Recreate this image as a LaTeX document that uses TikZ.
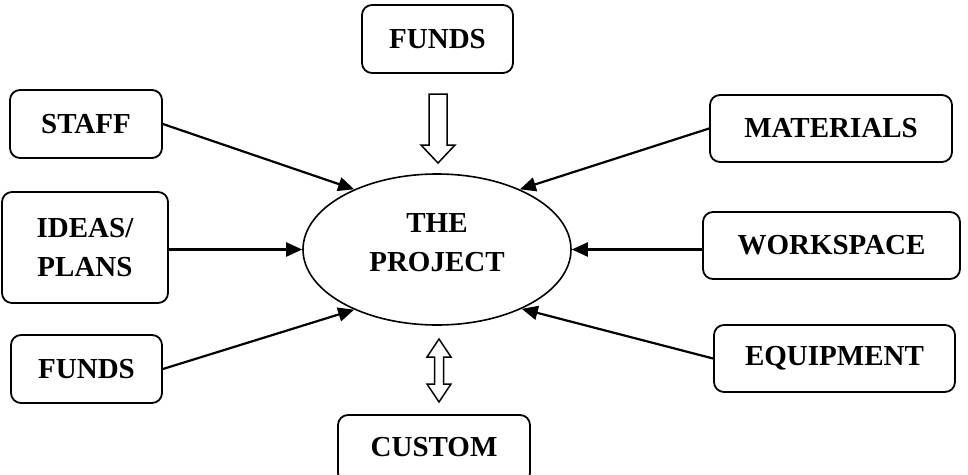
\documentclass[tikz,border=0pt]{standalone}
\usepackage{fontspec}
\setmainfont{Liberation Serif}
\usetikzlibrary{arrows.meta,shapes.geometric}
\begin{document}
\begin{tikzpicture}[x=1pt,y=-1pt,
  lbl/.style={font=\fontsize{29}{39}\selectfont\bfseries,align=center,inner sep=0pt},
  box/.style={lbl,draw,line width=1.8pt,rounded corners=10pt},
  conn/.style={line width=2.2pt,-{Triangle[length=16pt,width=14pt]}},
  blockarrow/.style={draw,line width=1.5pt,fill=white,line join=miter}]
\useasboundingbox (0,0) rectangle (968,474);
\clip (0,0) rectangle (968,474);
\node[box,minimum width=151pt,minimum height=68pt] (fundsT) at (437.5,39) {FUNDS};
\node[box,minimum width=152pt,minimum height=68pt] (staff) at (86,124) {STAFF};
\node[box,minimum width=166pt,minimum height=111pt] (ideas) at (85,247.5) {IDEAS/\\PLANS};
\node[box,minimum width=151pt,minimum height=68pt] (fundsL) at (86.5,369) {FUNDS};
\node[box,minimum width=242pt,minimum height=67pt] (mat) at (831,128.5) {MATERIALS};
\node[box,minimum width=257pt,minimum height=67pt] (work) at (831.5,245.5) {WORKSPACE};
\node[box,minimum width=241pt,minimum height=67pt] (equip) at (834.5,358.5) {EQUIPMENT};
\node[box,minimum width=192pt,minimum height=68pt] (custom) at (434,449) {\raisebox{3.5pt}{CUSTOM}};
\node[ellipse,draw,line width=1.6pt,minimum width=268pt,minimum height=151pt,inner sep=0pt] (proj) at (437,249.5) {};
\node[lbl] (projtext) at (437,243) {THE\\PROJECT};
\draw[conn] (staff.east) -- (proj.144);
\draw[conn] (ideas.east |- proj.west) -- (proj.west);
\draw[conn] (fundsL.east) -- (proj.216);
\draw[conn] (mat.west) -- (proj.36);
\draw[conn] (work.west |- proj.east) -- (proj.east);
\draw[conn] (equip.west) -- (proj.-35);
% single block arrow FUNDS -> project
\draw[blockarrow] (429,94) -- (447,94) -- (447,145) -- (455,145) -- (438,163) -- (421,145) -- (429,145) -- cycle;
% double block arrow project <-> custom
\draw[blockarrow] (439,339) -- (451,357) -- (443.5,357) -- (443.5,384) -- (451,384) -- (439,402)
  -- (427,384) -- (434.5,384) -- (434.5,357) -- (427,357) -- cycle;
\end{tikzpicture}
\end{document}
